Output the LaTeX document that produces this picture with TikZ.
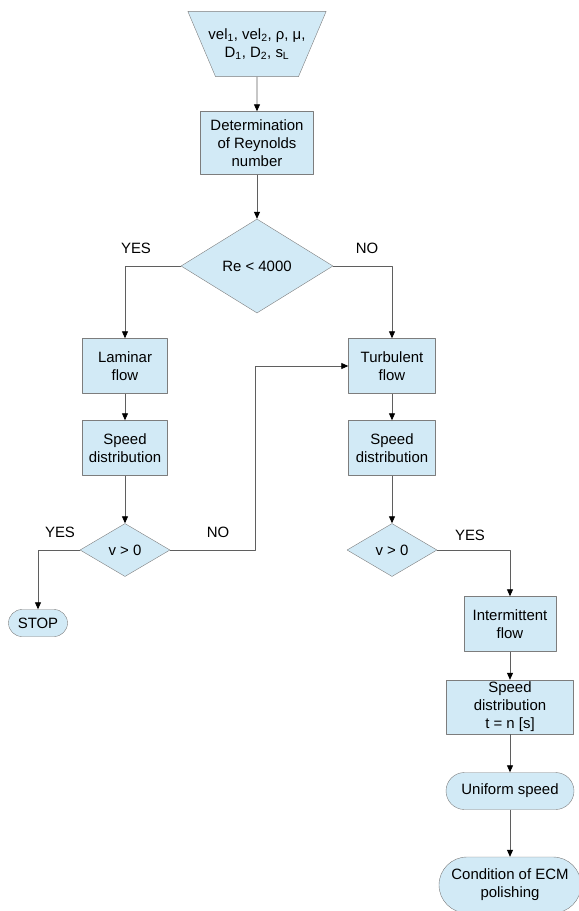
\documentclass[tikz,border=0pt]{standalone}
\usepackage{fontspec}
\setmainfont{Liberation Sans}
\usepackage{xcolor}
\usetikzlibrary{arrows.meta,shapes.geometric,shapes.misc}
\definecolor{flowblue}{RGB}{210,234,246}
\definecolor{flowedge}{RGB}{125,125,125}
\definecolor{flowline}{RGB}{95,95,95}
\tikzset{
  every picture/.style={line join=round, >={Triangle[length=7bp,width=6bp,color=black]}},
  procbox/.style={draw=flowedge, fill=flowblue, rectangle, align=center, inner sep=2bp},
  decision/.style={draw=flowedge, fill=flowblue, diamond, align=center, inner sep=0pt},
  terminal/.style={draw=flowedge, fill=flowblue, rounded rectangle, align=center, inner sep=2bp},
  inputbox/.style={draw=flowedge, fill=flowblue, trapezium, shape border rotate=180,
    trapezium left angle=67, trapezium right angle=67, inner xsep=-7bp, inner ysep=17bp, align=center},
  conn/.style={draw=flowline, line width=0.8bp},
}

\begin{document}
\begin{tikzpicture}[x=1bp,y=-1bp,font=\fontsize{15}{18}\selectfont]
\useasboundingbox (0,0) rectangle (579,911);
\node[inputbox] (input) at (257,44)
  {vel\textsubscript{1}, vel\textsubscript{2}, ρ, μ,\\D\textsubscript{1}, D\textsubscript{2}, s\textsubscript{L}};
\node[procbox, minimum width=113bp, minimum height=63bp] (reyn) at (257,143) {Determination\\of Reynolds\\number};
\node[decision, minimum width=152bp, minimum height=94bp] (re) at (257,266) {Re < 4000};
\node[procbox, minimum width=85bp, minimum height=55bp] (lam) at (125,366) {Laminar\\flow};
\node[procbox, minimum width=85bp, minimum height=55bp] (sdl) at (125,448) {Speed\\distribution};
\node[decision, minimum width=90bp, minimum height=53bp] (vl) at (125,550) {v > 0};
\node[terminal, minimum width=63bp, minimum height=27bp] (stop) at (38,623) {STOP};
\node[procbox, minimum width=87bp, minimum height=55bp] (turb) at (392,366) {Turbulent\\flow};
\node[procbox, minimum width=87bp, minimum height=55bp] (sdr) at (392,448) {Speed\\distribution};
\node[decision, minimum width=90bp, minimum height=53bp] (vr) at (392,550) {v > 0};
\node[procbox, minimum width=92bp, minimum height=55bp] (inter) at (510,624) {Intermittent\\flow};
\node[procbox, minimum width=127bp, minimum height=54bp] (sdt) at (510,707) {Speed\\distribution\\t = n [s]};
\node[terminal, minimum width=132bp, minimum height=37bp] (unif) at (510,791) {Uniform speed};
\node[terminal, minimum width=146bp, minimum height=56bp] (cond) at (510,885) {Condition of ECM\\polishing};
\node (yes1) at (136,248) {YES};
\node (no1) at (367,248) {NO};
\node (yes2) at (60,532) {YES};
\node (no2) at (218,532) {NO};
\node (yes3) at (470,535) {YES};
\coordinate (back) at (255,550);
\draw[conn,->] (input.south) -- (reyn.north);
\draw[conn,->] (reyn.south) -- (re.north);
\draw[conn,->] (re.west) -| (lam.north);
\draw[conn,->] (re.east) -| (turb.north);
\draw[conn,->] (lam.south) -- (sdl.north);
\draw[conn,->] (sdl.south) -- (vl.north);
\draw[conn,->] (vl.west) -| (stop.north);
\draw[conn,->] (vl.east) -- (back) |- (turb.west);
\draw[conn,->] (turb.south) -- (sdr.north);
\draw[conn,->] (sdr.south) -- (vr.north);
\draw[conn,->] (vr.east) -| (inter.north);
\draw[conn,->] (inter.south) -- (sdt.north);
\draw[conn,->] (sdt.south) -- (unif.north);
\draw[conn,->] (unif.south) -- (cond.north);
\end{tikzpicture}
\end{document}
